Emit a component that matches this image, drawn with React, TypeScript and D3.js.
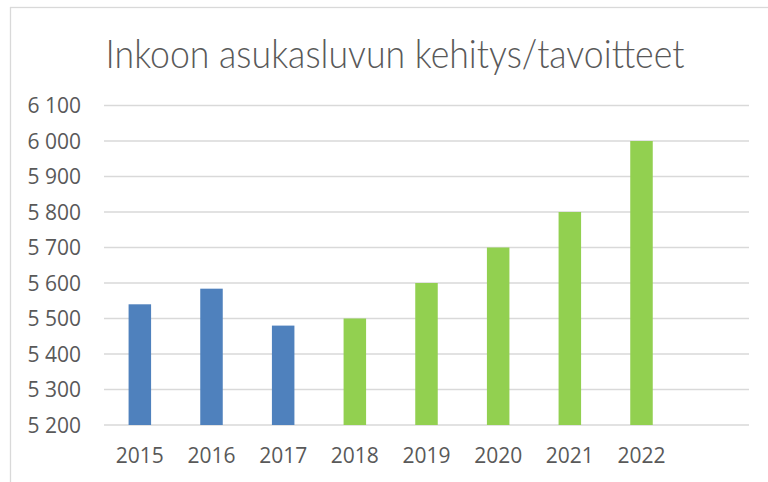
import React from "react";
import * as d3 from "d3";

const title = "Inkoon asukasluvun kehitys/tavoitteet";
const years = ["2015", "2016", "2017", "2018", "2019", "2020", "2021", "2022"];
const actualValues: (number | null)[] = [5540, 5584, 5480, null, null, null, null, null];
const targetValues: (number | null)[] = [null, null, null, 5500, 5600, 5700, 5800, 6000];
const yTicks = [5200, 5300, 5400, 5500, 5600, 5700, 5800, 5900, 6000, 6100];
const emptySlots = 1;

const W = 768;
const H = 482;
const plotLeft = 104;
const plotRight = 749;
const plotTop = 105.5;
const plotBottom = 425;
const textColor = "#595959";
const gridColor = "#d9d9d9";
const blue = "#4f81bd";
const green = "#92d050";
const font = "'Open Sans', 'DejaVu Sans', sans-serif";

const locale = d3.formatLocale({ decimal: ",", thousands: " ", grouping: [3], currency: ["", ""] });
const fmt = locale.format(",");

export default function App() {
  const totalSlots = years.length + emptySlots;
  const step = (plotRight - plotLeft) / totalSlots;
  const x = d3
    .scaleBand<string>()
    .domain(years)
    .range([plotLeft, plotLeft + step * years.length])
    .paddingInner(0.686)
    .paddingOuter(0.343);
  const y = d3
    .scaleLinear()
    .domain([d3.min(yTicks)!, d3.max(yTicks)!])
    .range([plotBottom, plotTop]);

  const bars = (vals: (number | null)[], color: string) =>
    vals.map((v, i) =>
      v == null ? null : (
        <rect
          key={color + i}
          x={x(years[i])!}
          y={y(v)}
          width={x.bandwidth()}
          height={y(y.domain()[0]) - y(v)}
          fill={color}
        />
      )
    );

  return (
    <svg
      width={W}
      height={H}
      style={{ position: "absolute", left: 0, top: 0, background: "#fff" }}
      fontFamily={font}
    >
      <rect x={0} y={0} width={W} height={H} fill="#fff" />
      <rect x={10.5} y={7.5} width={W + 20} height={H + 20} fill="none" stroke={gridColor} strokeWidth={1.3} />
      <text
        transform="translate(395,67.5) scale(0.892,1)"
        textAnchor="middle"
        fontSize={40}
        fontWeight={300}
        fontFamily="Lato, 'Open Sans', sans-serif"
        fill={textColor}
      >
        {title}
      </text>
      {yTicks.map((t) => (
        <g key={t}>
          <line x1={plotLeft} x2={plotRight} y1={y(t)} y2={y(t)} stroke={gridColor} strokeWidth={1.3} />
          <text x={81} y={y(t) + 7.5} textAnchor="end" fontSize={21} fill={textColor}>
            {fmt(t)}
          </text>
        </g>
      ))}
      {bars(actualValues, blue)}
      {bars(targetValues, green)}
      {years.map((yr) => (
        <text key={yr} x={x(yr)! + x.bandwidth() / 2} y={463} textAnchor="middle" fontSize={21} fill={textColor}>
          {yr}
        </text>
      ))}
    </svg>
  );
}
